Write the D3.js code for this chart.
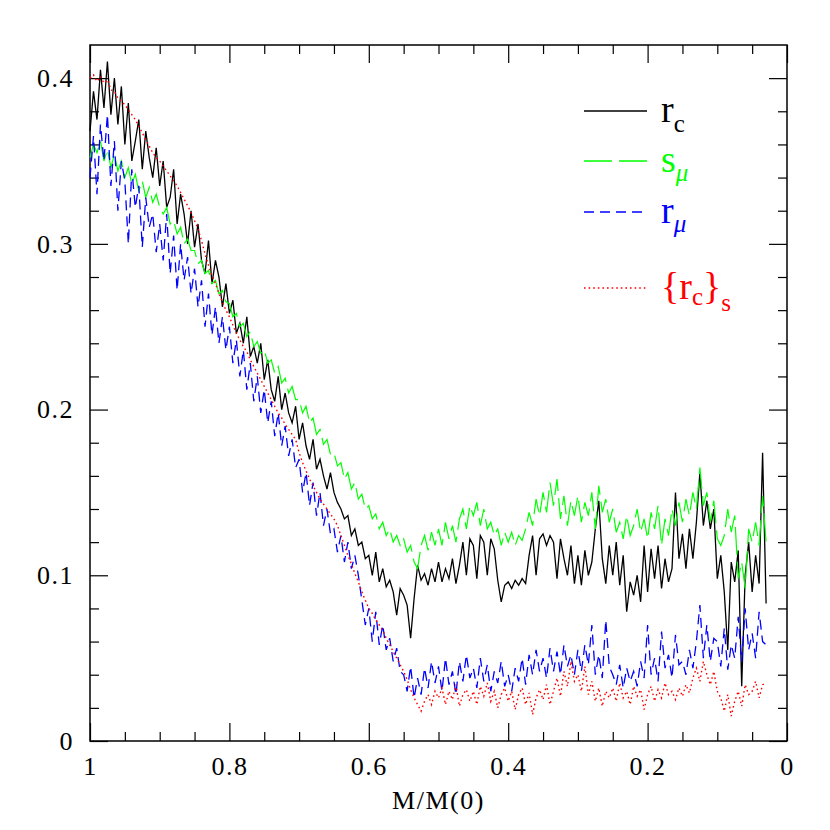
<!DOCTYPE html>
<html>
<head>
<meta charset="utf-8">
<script src="https://cdn.jsdelivr.net/npm/d3@7"></script>
<style>
  body { margin: 0; background: #fff; }
  text { font-family: 'Liberation Serif', 'Times New Roman', serif; }
</style>
</head>
<body>
<div id="chart"></div>
<script>
// M/M(0), sampled every 0.005 from 1 down to 0.03
var mass = [
  1.000,0.995,0.990,0.985,0.980,0.975,0.970,0.965,0.960,0.955,
  0.950,0.945,0.940,0.935,0.930,0.925,0.920,0.915,0.910,0.905,
  0.900,0.895,0.890,0.885,0.880,0.875,0.870,0.865,0.860,0.855,
  0.850,0.845,0.840,0.835,0.830,0.825,0.820,0.815,0.810,0.805,
  0.800,0.795,0.790,0.785,0.780,0.775,0.770,0.765,0.760,0.755,
  0.750,0.745,0.740,0.735,0.730,0.725,0.720,0.715,0.710,0.705,
  0.700,0.695,0.690,0.685,0.680,0.675,0.670,0.665,0.660,0.655,
  0.650,0.645,0.640,0.635,0.630,0.625,0.620,0.615,0.610,0.605,
  0.600,0.595,0.590,0.585,0.580,0.575,0.570,0.565,0.560,0.555,
  0.550,0.545,0.540,0.535,0.530,0.525,0.520,0.515,0.510,0.505,
  0.500,0.495,0.490,0.485,0.480,0.475,0.470,0.465,0.460,0.455,
  0.450,0.445,0.440,0.435,0.430,0.425,0.420,0.415,0.410,0.405,
  0.400,0.395,0.390,0.385,0.380,0.375,0.370,0.365,0.360,0.355,
  0.350,0.345,0.340,0.335,0.330,0.325,0.320,0.315,0.310,0.305,
  0.300,0.295,0.290,0.285,0.280,0.275,0.270,0.265,0.260,0.255,
  0.250,0.245,0.240,0.235,0.230,0.225,0.220,0.215,0.210,0.205,
  0.200,0.195,0.190,0.185,0.180,0.175,0.170,0.165,0.160,0.155,
  0.150,0.145,0.140,0.135,0.130,0.125,0.120,0.115,0.110,0.105,
  0.100,0.095,0.090,0.085,0.080,0.075,0.070,0.065,0.060,0.055,
  0.050,0.045,0.040,0.035,0.030
];

// r_c
var rc = [
  0.368,0.392,0.375,0.405,0.382,0.410,0.378,0.400,0.372,0.395,
  0.360,0.385,0.350,0.362,0.375,0.345,0.368,0.352,0.340,0.358,
  0.335,0.350,0.322,0.328,0.345,0.312,0.330,0.318,0.300,0.320,
  0.298,0.312,0.290,0.282,0.302,0.276,0.290,0.280,0.262,0.276,
  0.258,0.266,0.246,0.252,0.240,0.256,0.232,0.238,0.228,0.240,
  0.218,0.230,0.212,0.205,0.220,0.200,0.210,0.198,0.192,0.202,
  0.182,0.192,0.178,0.170,0.182,0.164,0.170,0.160,0.152,0.162,
  0.150,0.144,0.140,0.134,0.136,0.124,0.128,0.118,0.120,0.110,
  0.112,0.100,0.114,0.096,0.104,0.093,0.097,0.090,0.076,0.092,
  0.088,0.082,0.062,0.086,0.106,0.097,0.101,0.094,0.104,0.096,
  0.108,0.096,0.104,0.098,0.110,0.095,0.106,0.120,0.100,0.122,
  0.118,0.098,0.124,0.120,0.100,0.122,0.116,0.097,0.084,0.094,
  0.096,0.092,0.097,0.094,0.098,0.095,0.112,0.124,0.100,0.122,
  0.125,0.118,0.124,0.120,0.098,0.122,0.110,0.100,0.118,0.095,
  0.112,0.094,0.115,0.100,0.108,0.128,0.145,0.110,0.095,0.118,
  0.100,0.120,0.094,0.112,0.078,0.096,0.088,0.100,0.084,0.118,
  0.090,0.116,0.098,0.118,0.092,0.110,0.096,0.104,0.150,0.110,
  0.125,0.104,0.128,0.110,0.132,0.162,0.130,0.145,0.128,0.140,
  0.098,0.112,0.090,0.055,0.108,0.096,0.115,0.033,0.100,0.120,
  0.090,0.112,0.095,0.174,0.083
];

// s_mu
var smu = [
  0.352,0.360,0.355,0.362,0.350,0.357,0.346,0.354,0.344,0.350,
  0.340,0.346,0.336,0.342,0.332,0.338,0.328,0.334,0.325,0.330,
  0.322,0.318,0.322,0.312,0.314,0.306,0.310,0.300,0.303,0.296,
  0.296,0.288,0.290,0.282,0.284,0.276,0.278,0.270,0.272,0.265,
  0.264,0.256,0.258,0.250,0.252,0.244,0.247,0.238,0.241,0.234,
  0.236,0.228,0.230,0.222,0.226,0.216,0.219,0.210,0.214,0.206,
  0.206,0.198,0.202,0.192,0.195,0.185,0.188,0.179,0.182,0.173,
  0.174,0.166,0.168,0.158,0.162,0.152,0.156,0.146,0.149,0.140,
  0.142,0.134,0.137,0.128,0.132,0.124,0.128,0.120,0.124,0.118,
  0.122,0.114,0.118,0.108,0.104,0.118,0.124,0.115,0.126,0.118,
  0.128,0.118,0.132,0.122,0.130,0.120,0.134,0.140,0.128,0.142,
  0.136,0.144,0.130,0.140,0.128,0.132,0.124,0.128,0.118,0.126,
  0.120,0.126,0.118,0.124,0.121,0.128,0.138,0.130,0.146,0.136,
  0.150,0.138,0.156,0.142,0.158,0.134,0.148,0.130,0.145,0.136,
  0.148,0.132,0.144,0.136,0.150,0.128,0.154,0.138,0.146,0.132,
  0.140,0.126,0.132,0.122,0.136,0.124,0.130,0.140,0.126,0.134,
  0.122,0.138,0.128,0.142,0.118,0.134,0.124,0.140,0.130,0.144,
  0.132,0.146,0.136,0.150,0.140,0.165,0.142,0.150,0.132,0.145,
  0.122,0.118,0.124,0.140,0.126,0.136,0.098,0.108,0.092,0.128,
  0.120,0.132,0.118,0.148,0.120
];

// r_mu
var rmu = [
  0.340,0.365,0.330,0.372,0.350,0.378,0.335,0.362,0.320,0.350,
  0.338,0.300,0.345,0.322,0.335,0.298,0.328,0.310,0.318,0.295,
  0.312,0.290,0.318,0.282,0.305,0.272,0.300,0.278,0.292,0.270,
  0.285,0.262,0.278,0.250,0.270,0.245,0.262,0.240,0.256,0.236,
  0.250,0.228,0.242,0.220,0.236,0.212,0.228,0.205,0.220,0.198,
  0.212,0.192,0.205,0.184,0.198,0.178,0.190,0.172,0.182,0.165,
  0.170,0.150,0.162,0.142,0.156,0.136,0.150,0.130,0.140,0.125,
  0.128,0.114,0.124,0.108,0.120,0.104,0.112,0.100,0.085,0.070,
  0.080,0.060,0.078,0.058,0.070,0.055,0.062,0.048,0.056,0.042,
  0.040,0.030,0.045,0.026,0.038,0.028,0.044,0.032,0.048,0.035,
  0.045,0.030,0.050,0.034,0.042,0.028,0.048,0.036,0.052,0.038,
  0.044,0.032,0.050,0.036,0.046,0.030,0.042,0.035,0.048,0.033,
  0.040,0.030,0.044,0.036,0.050,0.034,0.052,0.040,0.055,0.042,
  0.050,0.038,0.056,0.042,0.054,0.040,0.058,0.045,0.052,0.040,
  0.055,0.042,0.058,0.046,0.070,0.040,0.052,0.038,0.073,0.045,
  0.040,0.034,0.046,0.032,0.044,0.036,0.042,0.033,0.048,0.038,
  0.070,0.040,0.050,0.036,0.066,0.044,0.052,0.038,0.064,0.046,
  0.048,0.040,0.055,0.044,0.060,0.082,0.050,0.070,0.048,0.062,
  0.060,0.045,0.068,0.043,0.058,0.050,0.075,0.048,0.080,0.055,
  0.065,0.050,0.078,0.060,0.058
];

// {r_c}_s
var rcs = [
  0.400,0.402,0.398,0.401,0.397,0.399,0.393,0.392,0.388,0.386,
  0.384,0.381,0.378,0.375,0.371,0.367,0.363,0.359,0.355,0.352,
  0.350,0.347,0.344,0.341,0.338,0.335,0.331,0.327,0.323,0.319,
  0.314,0.309,0.302,0.294,0.287,0.281,0.276,0.270,0.265,0.260,
  0.256,0.251,0.246,0.242,0.238,0.235,0.230,0.226,0.222,0.218,
  0.214,0.210,0.206,0.202,0.198,0.195,0.191,0.188,0.185,0.182,
  0.174,0.168,0.163,0.158,0.154,0.150,0.146,0.143,0.140,0.137,
  0.134,0.130,0.124,0.118,0.112,0.107,0.101,0.096,0.090,0.085,
  0.080,0.077,0.073,0.070,0.067,0.062,0.058,0.054,0.050,0.046,
  0.042,0.037,0.031,0.026,0.022,0.018,0.024,0.028,0.022,0.030,
  0.026,0.032,0.022,0.030,0.025,0.034,0.021,0.028,0.031,0.024,
  0.030,0.022,0.033,0.027,0.035,0.024,0.030,0.020,0.028,0.032,
  0.024,0.030,0.019,0.028,0.032,0.022,0.029,0.016,0.026,0.031,
  0.025,0.034,0.022,0.030,0.038,0.027,0.042,0.033,0.048,0.036,
  0.040,0.030,0.045,0.028,0.036,0.024,0.032,0.021,0.030,0.026,
  0.032,0.024,0.035,0.026,0.030,0.022,0.033,0.027,0.031,0.019,
  0.028,0.033,0.024,0.031,0.026,0.035,0.028,0.030,0.025,0.032,
  0.027,0.034,0.029,0.038,0.044,0.036,0.048,0.040,0.034,0.042,
  0.030,0.026,0.018,0.028,0.015,0.024,0.030,0.021,0.034,0.028,
  0.030,0.036,0.026,0.034,0.035
];

var xMajor = [1, 0.8, 0.6, 0.4, 0.2, 0];
var xMinor = [0.95, 0.9, 0.85, 0.75, 0.7, 0.65, 0.55, 0.5, 0.45, 0.35, 0.3, 0.25, 0.15, 0.1, 0.05];
var yMajor = [0, 0.1, 0.2, 0.3, 0.4];
var yMinor = [0.02, 0.04, 0.06, 0.08, 0.12, 0.14, 0.16, 0.18, 0.22, 0.24, 0.26, 0.28, 0.32, 0.34, 0.36, 0.38];

(function(d3) {
  'use strict';
  var width = 830;
  var height = 830;
  var left = 90, right = 787, top = 45, bottom = 741;

  var svg = d3.select('#chart')
    .append('svg')
    .attr('width', width)
    .attr('height', height);

  var x = d3.scaleLinear().domain([1, 0]).range([left, right]);
  var y = d3.scaleLinear().domain([0, 0.42]).range([bottom, top]);

  var fmt = function(d) { return String(+d.toFixed(2)); };

  // frame
  svg.append('rect')
    .attr('x', left).attr('y', top)
    .attr('width', right - left).attr('height', bottom - top)
    .attr('fill', 'none').attr('stroke', '#000').attr('stroke-width', 1.5);

  function addAxis(axis, tx, ty, labels) {
    var g = svg.append('g')
      .attr('transform', 'translate(' + tx + ',' + ty + ')')
      .call(axis);
    g.select('.domain').remove();
    g.selectAll('.tick line').attr('stroke', '#000').attr('stroke-width', 1.2);
    g.selectAll('.tick text')
      .attr('fill', '#000')
      .style('font-size', '26px')
      .style('letter-spacing', '1.5px');
    if (!labels) g.selectAll('.tick text').remove();
    return g;
  }

  // bottom / top
  addAxis(d3.axisBottom(x).tickValues(xMajor).tickSize(-18).tickPadding(16).tickFormat(fmt), 0, bottom, true);
  addAxis(d3.axisBottom(x).tickValues(xMinor).tickSize(-9), 0, bottom, false);
  addAxis(d3.axisTop(x).tickValues(xMajor).tickSize(-18), 0, top, false);
  addAxis(d3.axisTop(x).tickValues(xMinor).tickSize(-9), 0, top, false);
  // left / right
  addAxis(d3.axisLeft(y).tickValues(yMajor).tickSize(-18).tickPadding(16).tickFormat(fmt), left, 0, true);
  addAxis(d3.axisLeft(y).tickValues(yMinor).tickSize(-9), left, 0, false);
  addAxis(d3.axisRight(y).tickValues(yMajor).tickSize(-18), right, 0, false);
  addAxis(d3.axisRight(y).tickValues(yMinor).tickSize(-9), right, 0, false);

  svg.append('text')
    .attr('x', (left + right) / 2)
    .attr('y', 809)
    .attr('text-anchor', 'middle')
    .style('font-size', '26px')
    .style('letter-spacing', '1.5px')
    .text('M/M(0)');

  var series = [
    { values: rc, color: '#000000', dash: null, width: 1.3 },
    { values: smu, color: '#00ff00', dash: '28,7', width: 1.2 },
    { values: rmu, color: '#0000ff', dash: '10,6', width: 1.3 },
    { values: rcs, color: '#ff0000', dash: '1.6,3', width: 1.4 }
  ];

  var line = d3.line()
    .x(function(d, i) { return x(mass[i]); })
    .y(function(d) { return y(d); });

  series.forEach(function(s) {
    svg.append('path')
      .datum(s.values)
      .attr('d', line)
      .attr('fill', 'none')
      .attr('stroke', s.color)
      .attr('stroke-width', s.width)
      .attr('stroke-dasharray', s.dash);
  });

  // legend
  var legendY = [111, 161, 212, 288];
  var legend = svg.append('g');
  series.forEach(function(s, i) {
    legend.append('line')
      .attr('x1', 584).attr('x2', 647)
      .attr('y1', legendY[i]).attr('y2', legendY[i])
      .attr('stroke', s.color)
      .attr('stroke-width', 1.4)
      .attr('stroke-dasharray', s.dash);
  });

  function label(i, parts) {
    var t = legend.append('text')
      .attr('x', 661)
      .attr('y', legendY[i] + 11)
      .attr('fill', series[i].color)
      .style('font-size', '38px');
    parts.forEach(function(p) {
      var ts = t.append('tspan').text(p.t);
      if (p.size) ts.style('font-size', p.size);
      if (p.dy) ts.attr('dy', p.dy);
      if (p.italic) ts.style('font-style', 'italic');
    });
  }
  label(0, [{ t: 'r' }, { t: 'c', size: '25px', dy: 10 }]);
  label(1, [{ t: 's' }, { t: '\u03bc', size: '25px', dy: 9, italic: true }]);
  label(2, [{ t: 'r' }, { t: '\u03bc', size: '25px', dy: 9, italic: true }]);
  label(3, [{ t: '{' }, { t: 'r' }, { t: 'c', size: '25px', dy: 6 }, { t: '}', dy: -6 }, { t: 's', size: '25px', dy: 12 }]);
})(window.d3);
</script>
</body>
</html>
